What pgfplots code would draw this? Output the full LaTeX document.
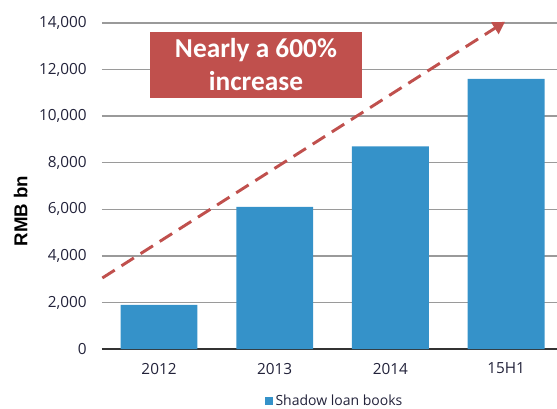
\documentclass[border=0pt]{standalone}
\usepackage{fontspec}
\setmainfont{Open Sans}
\newfontfamily\boxfont{Carlito}
\newfontfamily\labfont{Liberation Sans}
\usepackage{pgfplots}
\pgfplotsset{compat=1.18}
\usetikzlibrary{arrows.meta}

\definecolor{barblue}{HTML}{3592C9}
\definecolor{boxred}{HTML}{C0504D}
\definecolor{gridgray}{HTML}{9A9A9A}
\definecolor{ticktext}{HTML}{22223A}

\begin{document}
\begin{tikzpicture}
% page = 557 x 408 px, 1px = 0.75pt
\useasboundingbox (-76.5pt,-44.25pt) rectangle (341.25pt,261.75pt);
\begin{axis}[
    scale only axis,
    width=341.25pt, height=244.5pt,
    ybar, bar width=0.665,
    xmin=-0.493, xmax=3.44,
    ymin=0, ymax=14000,
    xtick=data,
    xticklabels={2012,2013,2014,15H1},
    ytick={0,2000,...,14000},
    /pgf/number format/assume math mode=true,
    /pgf/number format/1000 sep={,},
    scaled y ticks=false,
    major tick length=0pt,
    ymajorgrids,
    grid style={gridgray, line width=1.1pt},
    axis x line*=bottom,
    axis y line*=left,
    x axis line style={draw=black!80, line width=1.6pt, -},
    y axis line style={draw=none},
    tick label style={font=\fontsize{11.5}{13}\selectfont, text=ticktext},
    xticklabel style={yshift=-7pt},
    yticklabel style={xshift=-8pt},
    clip=false,
    legend style={at={(axis description cs:0.512,-0.16)}, anchor=center,
                  draw=none, fill=none, font=\fontsize{10.5}{12}\selectfont,
                  text=ticktext, inner sep=0pt},
    legend image code/.code={\fill[barblue] (0pt,-3pt) rectangle (6pt,3pt);},
    legend cell align=left,
]
\addplot[fill=barblue, draw=none] coordinates {
    (0,1900) (1,6100) (2,8700) (3,11600)
};
\addlegendentry{Shadow loan books}

\draw[boxred, line width=2.2pt, dash pattern=on 11pt off 6pt,
      -{Triangle[length=9pt,width=10pt]}]
    (axis cs:-0.49,3050) -- (axis cs:2.99,14050);

\node[fill=boxred, text=white, minimum width=159pt, minimum height=49.5pt,
      align=center, inner sep=0pt,
      font=\boxfont\bfseries\fontsize{20.5}{24.75}\selectfont]
    at (axis cs:0.838,12200) {Nearly a 600\%\\increase};

\node[rotate=90, anchor=center,
      font=\labfont\bfseries\fontsize{14}{16}\selectfont]
    at ([xshift=-61pt]axis description cs:0,0.423) {RMB bn};
\end{axis}
\end{tikzpicture}
\end{document}
